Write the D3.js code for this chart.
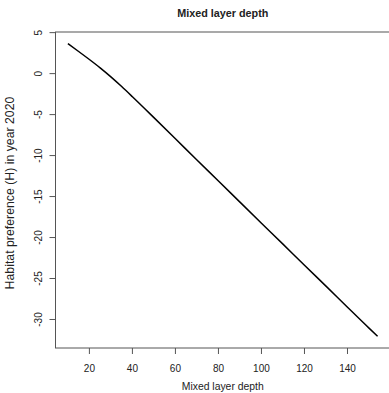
<!DOCTYPE html>
<html lang="en">
  <head>
    <meta charset="UTF-8" />
    <title>Mixed layer depth</title>
    <style>
      body { margin: 0; background: #fff; }
      text { font-family: 'Liberation Sans', Arial, sans-serif; fill: #222; }
    </style>
  </head>
  <body>
    <svg id="svg" width="389" height="393"></svg>
    <script src="https://cdn.jsdelivr.net/npm/d3@7"></script>
    <script>
      // curve values
      const depth = [10, 15, 20, 25, 30, 35, 40, 50, 60, 70, 80, 90, 100, 110, 120, 130, 140, 150, 154]
      const habitat = [3.65, 2.7, 1.72, 0.7, -0.4, -1.58, -2.82, -5.37, -7.95, -10.55, -13.1, -15.68, -18.25, -20.8, -23.38, -25.93, -28.5, -31.05, -32.05]
      const xTicks = [20, 40, 60, 80, 100, 120, 140]
      const yTicks = [5, 0, -5, -10, -15, -20, -25, -30]

      const svg = d3.select('#svg')
      const margin = { left: 55.5, top: 32, right: -1, bottom: 45 }
      const width = +svg.attr('width')
      const height = +svg.attr('height')

      // R style 4% padding on the data range
      function pad(ext) {
        const d = (ext[1] - ext[0]) * 0.04
        return [ext[0] - d, ext[1] + d]
      }

      const x = d3.scaleLinear()
        .domain(pad(d3.extent(depth)))
        .range([margin.left, width - margin.right])
      const y = d3.scaleLinear()
        .domain(pad(d3.extent(habitat)))
        .range([height - margin.bottom, margin.top])

      const data = depth.map((d, i) => [d, habitat[i]])

      // box
      svg.append('rect')
        .attr('x', x.range()[0])
        .attr('y', y.range()[1])
        .attr('width', x.range()[1] - x.range()[0])
        .attr('height', y.range()[0] - y.range()[1])
        .attr('fill', 'none')
        .attr('stroke', '#555')
        .attr('stroke-width', 1)

      // x axis
      const gx = svg.append('g').attr('transform', `translate(0,${y.range()[0]})`)
      gx.selectAll('line').data(xTicks).enter().append('line')
        .attr('x1', (d) => x(d)).attr('x2', (d) => x(d))
        .attr('y1', 0).attr('y2', 6)
        .attr('stroke', '#555')
      gx.selectAll('text').data(xTicks).enter().append('text')
        .attr('x', (d) => x(d))
        .attr('y', 24)
        .attr('text-anchor', 'middle')
        .attr('font-size', 10)
        .text((d) => d)

      // y axis, labels turned like R
      const gy = svg.append('g').attr('transform', `translate(${x.range()[0]},0)`)
      gy.selectAll('line').data(yTicks).enter().append('line')
        .attr('x1', 0).attr('x2', -6)
        .attr('y1', (d) => y(d)).attr('y2', (d) => y(d))
        .attr('stroke', '#555')
      gy.selectAll('text').data(yTicks).enter().append('text')
        .attr('transform', (d) => `translate(-14,${y(d)}) rotate(-90)`)
        .attr('text-anchor', 'middle')
        .attr('font-size', 10)
        .text((d) => d)

      // the curve
      svg.append('path')
        .datum(data)
        .attr('d', d3.line().x((d) => x(d[0])).y((d) => y(d[1])).curve(d3.curveMonotoneX))
        .attr('fill', 'none')
        .attr('stroke', '#000')
        .attr('stroke-width', 1.5)

      // titles
      const cx = (x.range()[0] + x.range()[1]) / 2
      const cy = (y.range()[0] + y.range()[1]) / 2
      svg.append('text')
        .attr('x', cx).attr('y', 17)
        .attr('text-anchor', 'middle')
        .attr('font-size', 10.8)
        .attr('font-weight', 'bold')
        .text('Mixed layer depth')
      svg.append('text')
        .attr('x', cx).attr('y', 390)
        .attr('text-anchor', 'middle')
        .attr('font-size', 10.4)
        .text('Mixed layer depth')
      svg.append('text')
        .attr('transform', `translate(14,${cy + 3}) rotate(-90)`)
        .attr('text-anchor', 'middle')
        .attr('font-size', 12.3)
        .text('Habitat preference (H) in year 2020')
    </script>
  </body>
</html>
